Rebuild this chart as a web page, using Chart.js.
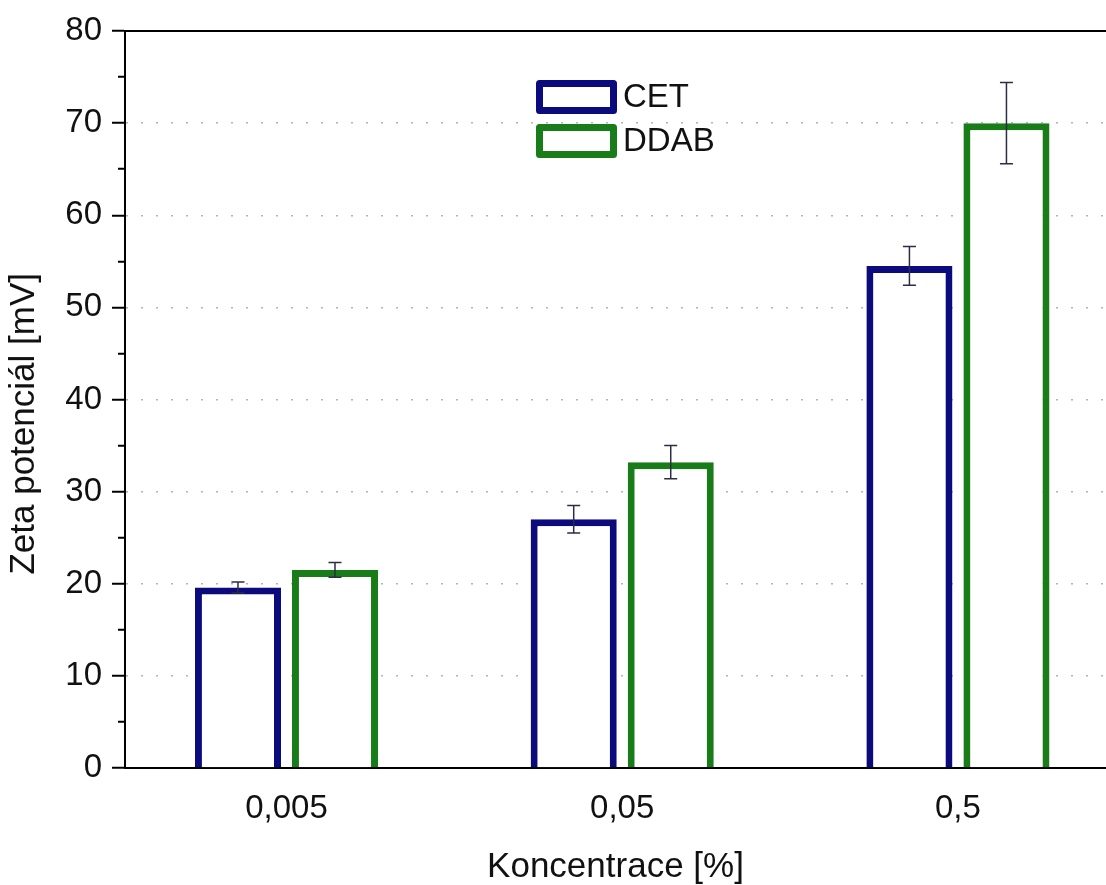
<!DOCTYPE html>
<html>
<head>
<meta charset="utf-8">
<title>Zeta potenciál</title>
<script src="https://cdn.jsdelivr.net/npm/chart.js@4.4.0/dist/chart.umd.min.js"></script>
<style>
  html, body { margin: 0; padding: 0; background: #fff; }
  #wrap { position: relative; width: 1106px; height: 885px; }
</style>
</head>
<body>
<div id="wrap"><canvas id="zeta"></canvas></div>

<script>
// concentrations on the x axis
const koncentrace = ['0,005', '0,05', '0,5'];

// measured zeta potential (mV) and standard deviations
const cetHodnoty = [19.6, 27.0, 54.5];
const cetChyby = [0.6, 1.5, 2.1];
const ddabHodnoty = [21.5, 33.2, 70.0];
const ddabChyby = [0.8, 1.8, 4.4];

// y axis range
const yMin = 0;
const yMax = 80;
const yKrok = 10;

const fontFamily = '"Liberation Sans", Arial, sans-serif';
const xMin = 0.519;
const xMax = 3.441;

// vertical error bars with caps on top of each bar
const errorBars = {
    id: 'errorBars',
    afterDatasetsDraw(chart) {
        const ctx = chart.ctx;
        const y = chart.scales.y;
        ctx.save();
        ctx.strokeStyle = '#2c2c44';
        ctx.lineWidth = 1.5;
        chart.data.datasets.forEach(function (ds, i) {
            chart.getDatasetMeta(i).data.forEach(function (bar, j) {
                const v = ds.data[j].y;
                const e = ds.errors[j];
                const top = y.getPixelForValue(v + e);
                const bot = y.getPixelForValue(v - e);
                ctx.beginPath();
                ctx.moveTo(bar.x, top);
                ctx.lineTo(bar.x, bot);
                ctx.moveTo(bar.x - 6.5, top);
                ctx.lineTo(bar.x + 6.5, top);
                ctx.moveTo(bar.x - 6.5, bot);
                ctx.lineTo(bar.x + 6.5, bot);
                ctx.stroke();
            });
        });
        ctx.restore();
    }
};

// legend: outlined boxes stacked inside the plot
const boxLegend = {
    id: 'boxLegend',
    afterDraw(chart) {
        const ctx = chart.ctx;
        ctx.save();
        ctx.font = '33px ' + fontFamily;
        ctx.textBaseline = 'middle';
        ctx.lineJoin = 'round';
        chart.data.datasets.forEach(function (ds, i) {
            const top = 83.5 + i * 44;
            ctx.lineWidth = 7;
            ctx.strokeStyle = ds.borderColor;
            ctx.strokeRect(539.5, top, 74, 27);
            ctx.fillStyle = '#111';
            ctx.fillText(ds.label, 623, top + 14.5);
        });
        ctx.restore();
    }
};

const toPoints = (arr) => arr.map((v, i) => ({ x: i + 1, y: v }));

new Chart(document.getElementById('zeta'), {
    type: 'bar',
    data: {
        datasets: [{
            label: 'CET',
            data: toPoints(cetHodnoty),
            errors: cetChyby,
            borderColor: '#0b0b7d',
            backgroundColor: '#ffffff',
            borderWidth: 7
        }, {
            label: 'DDAB',
            data: toPoints(ddabHodnoty),
            errors: ddabChyby,
            borderColor: '#187c18',
            backgroundColor: '#ffffff',
            borderWidth: 7
        }]
    },
    options: {
        responsive: true,
        maintainAspectRatio: false,
        animation: false,
        layout: { padding: { top: 31, left: 0, right: 0, bottom: 0 } },
        datasets: { bar: { categoryPercentage: 0.578, barPercentage: 0.887 } },
        plugins: { legend: { display: false }, tooltip: { enabled: false } },
        scales: {
            x: {
                type: 'linear',
                position: 'bottom',
                offset: false,
                min: xMin,
                max: xMax,
                afterBuildTicks: function (s) {
                    s.ticks = koncentrace.map((_, i) => ({ value: i + 1 }));
                },
                ticks: {
                    callback: (v) => koncentrace[v - 1],
                    font: { family: fontFamily, size: 33 },
                    color: '#111',
                    padding: 21,
                    autoSkip: false,
                    maxRotation: 0
                },
                grid: { display: false, drawTicks: false },
                border: { color: '#000', width: 2 },
                title: {
                    display: true,
                    text: 'Koncentrace [%]',
                    font: { family: fontFamily, size: 35, lineHeight: 1 },
                    color: '#111',
                    padding: { top: 0, bottom: 0 }
                },
                afterFit: function (s) { s.height = 117; }
            },
            x2: {
                type: 'linear',
                position: 'top',
                min: xMin,
                max: xMax,
                ticks: { display: false },
                grid: { display: false, drawTicks: false },
                border: { color: '#000', width: 2 },
                afterFit: function (s) { s.height = 0; }
            },
            y: {
                min: yMin,
                max: yMax,
                ticks: {
                    stepSize: yKrok / 2,
                    callback: (v) => (v % yKrok === 0 ? v : ''),
                    font: { family: fontFamily, size: 33 },
                    color: '#111',
                    padding: 10
                },
                grid: {
                    color: function (c) {
                        const v = c.tick.value;
                        return (v % yKrok === 0 && v > yMin && v < yMax) ? '#b3b3b3' : 'rgba(0,0,0,0)';
                    },
                    lineWidth: 1.5,
                    tickLength: 13,
                    tickColor: '#000',
                    tickWidth: 2,
                    tickBorderDash: function (c) {
                        return c.tick.value % yKrok === 0 ? [] : [0, 6, 8, 20];
                    }
                },
                border: { color: '#000', width: 2, dash: [2, 13] },
                title: {
                    display: true,
                    text: 'Zeta potenciál [mV]' + '\u00a0'.repeat(5),
                    font: { family: fontFamily, size: 35, lineHeight: 1 },
                    color: '#111',
                    padding: { top: 7, bottom: 0 }
                },
                afterFit: function (s) { s.width = 125; }
            }
        }
    },
    plugins: [errorBars, boxLegend]
});
</script>
</body>
</html>
